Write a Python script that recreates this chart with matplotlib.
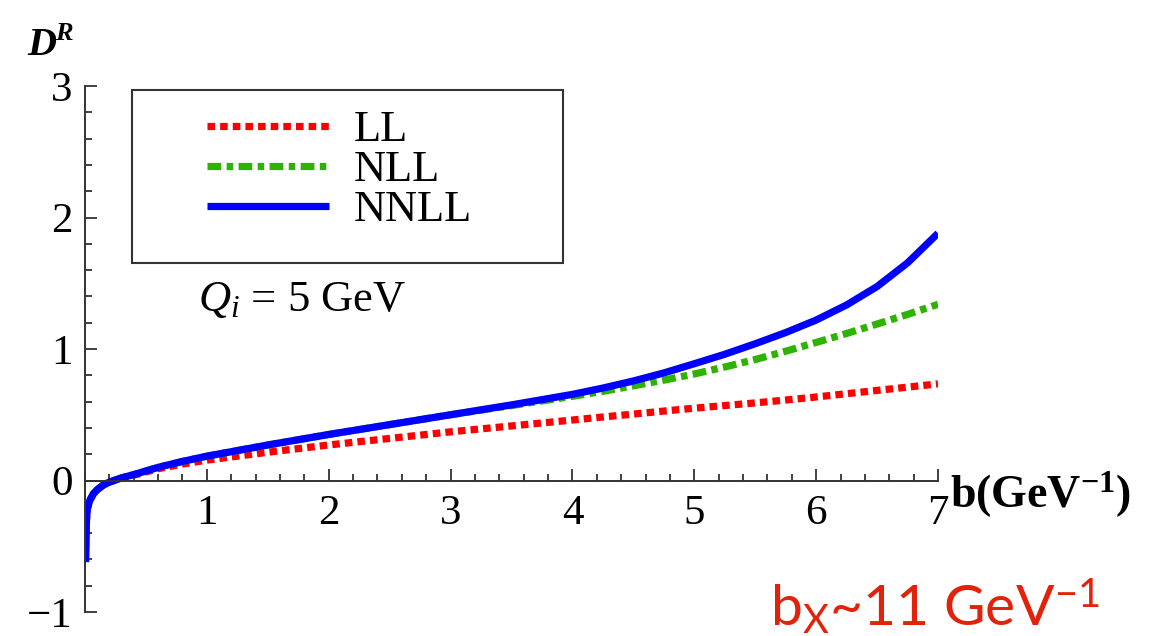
import numpy as np
import matplotlib
matplotlib.use("Agg")
import matplotlib.pyplot as plt
import matplotlib.patches as patches
from matplotlib.ticker import MultipleLocator

plt.rcParams['font.family'] = ['Liberation Serif', 'DejaVu Serif']
plt.rcParams['mathtext.fontset'] = 'custom'
plt.rcParams['mathtext.rm'] = 'Lato'
plt.rcParams['mathtext.it'] = 'Liberation Serif:italic'
plt.rcParams['mathtext.bf'] = 'Liberation Serif:bold'

# D^R vs impact parameter b, three resummation orders (Q_i = 5 GeV)
b = [0.004, 0.008, 0.012, 0.02, 0.04, 0.07, 0.1, 0.15, 0.2, 0.3, 0.4, 0.6, 0.8,
     1.0, 1.5, 2.0, 2.5, 3.0, 3.5, 4.0, 4.25, 4.5, 4.75, 5.0, 5.25, 5.5, 5.75,
     6.0, 6.25, 6.5, 6.75, 7.0]
d_ll = [-0.62, -0.45, -0.30, -0.21, -0.15, -0.10, -0.07, -0.035, -0.013, 0.018, 0.04,
        0.09, 0.125, 0.155, 0.215, 0.27, 0.32, 0.37, 0.415, 0.46, 0.483, 0.505,
        0.528, 0.55, 0.57, 0.59, 0.612, 0.635, 0.66, 0.685, 0.71, 0.735]
d_nll = [-0.62, -0.45, -0.30, -0.21, -0.15, -0.10, -0.07, -0.035, -0.012, 0.02, 0.045,
         0.10, 0.145, 0.185, 0.27, 0.35, 0.425, 0.50, 0.57, 0.64, 0.678, 0.72,
         0.763, 0.81, 0.863, 0.92, 0.983, 1.05, 1.118, 1.19, 1.263, 1.34]
d_nnll = [-0.62, -0.45, -0.30, -0.21, -0.15, -0.10, -0.07, -0.035, -0.012, 0.02, 0.045,
          0.10, 0.145, 0.185, 0.27, 0.35, 0.425, 0.50, 0.575, 0.655, 0.703, 0.757,
          0.818, 0.888, 0.96, 1.04, 1.125, 1.22, 1.335, 1.475, 1.655, 1.88]

x_ticks = [1, 2, 3, 4, 5, 6, 7]
y_ticks = [-1, 0, 1, 2, 3]
y_labels = ['\u22121', '0', '1', '2', '3']

W, H = 1165, 636
fig = plt.figure(figsize=(W / 100, H / 100), dpi=100)
ax = fig.add_axes([85 / W, 1 - 612 / H, (938 - 85) / W, (612 - 86) / H])

ax.plot(b, d_ll, color='#ff0000', lw=5.2, dashes=(1.05, 0.7),
        dash_capstyle='butt', label='LL')
ax.plot(b, d_nll, color='#2db400', lw=5.2, dashes=(1.9, 0.75, 0.9, 0.75),
        dash_capstyle='butt', label='NLL')
ax.plot(b, d_nnll, color='#0000ff', lw=5.2, solid_capstyle='butt',
        solid_joinstyle='round', label='NNLL')

ax.set_xlim(0, 7)
ax.set_ylim(-1, 3)
for side in ['top', 'right']:
    ax.spines[side].set_visible(False)
ax.spines['bottom'].set_position(('data', 0))
ax.spines['left'].set_position(('data', 0))
for side in ['bottom', 'left']:
    ax.spines[side].set_color('#333333')
    ax.spines[side].set_linewidth(1.4)

ax.set_xticks(x_ticks)
ax.set_xticklabels([str(t) for t in x_ticks])
ax.set_yticks(y_ticks)
ax.set_yticklabels(y_labels)
ax.xaxis.set_minor_locator(MultipleLocator(0.2))
ax.yaxis.set_minor_locator(MultipleLocator(0.2))
ax.tick_params(which='both', direction='in', color='#333333', width=1.3,
               labelsize=31)
ax.tick_params(which='major', length=8.5)
ax.tick_params(which='minor', length=5)
ax.tick_params(axis='x', pad=10)
ax.tick_params(axis='y', pad=9)

# legend with a plain square frame
leg = ax.legend(loc='upper left', bbox_to_anchor=(207 / W, 1 - 110 / H),
                bbox_transform=fig.transFigure, frameon=False, fontsize=32,
                handlelength=2.75, handletextpad=0.55, labelspacing=0.0,
                borderpad=0, borderaxespad=0)
fig.patches.append(patches.Rectangle((132 / W, 1 - 263 / H), (563 - 132) / W,
                                     (263 - 90) / H, transform=fig.transFigure,
                                     fill=False, ec='#333333', lw=1.5))

fig.text(198 / W, 1 - 300 / H, '$Q_i$ = 5 GeV', fontsize=32, va='center')

# axis titles
fig.text(27 / W, 1 - 55 / H, 'D', fontsize=29, fontweight='bold',
         style='italic', va='baseline')
fig.text(55 / W, 1 - 40 / H, 'R', fontsize=19, fontweight='bold',
         style='italic', va='baseline')
fig.text(950 / W, 1 - 495 / H, 'b(GeV$^{\\mathbf{-1}}$)', fontsize=33,
         fontweight='bold', va='center')

fig.text(770 / W, 1 - 625 / H, 'b$_{\\mathrm{X}}$~11 GeV$^{\\mathrm{-1}}$',
         fontsize=41, color='#e0230a', family='Lato', va='baseline')

fig.savefig('out.png', dpi=100)
